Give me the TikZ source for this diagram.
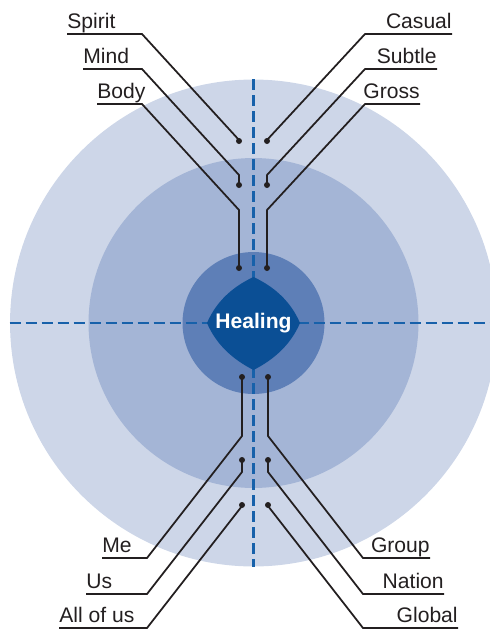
\documentclass[tikz,border=0pt]{standalone}
\usepackage{fontspec}
\setmainfont{Liberation Sans}
\usetikzlibrary{positioning}

\definecolor{ringOuter}{HTML}{CDD6E8}
\definecolor{ringMiddle}{HTML}{A4B5D6}
\definecolor{ringInner}{HTML}{5E7FB7}
\definecolor{core}{HTML}{0B4F95}
\definecolor{axis}{HTML}{1761AA}
\definecolor{ink}{HTML}{231F20}

\begin{document}
\begin{tikzpicture}[
        x=0.02cm, y=-0.02cm,
        ring/.style={
            circle,
            inner sep=0pt,
            draw=none
        },
        axisline/.style={
            axis,
            line width=1.4pt,
            dash pattern=on 0.22cm off 0.1cm
        },
        label/.style={
            inner sep=0pt,
            text depth=0.1cm,
            text=ink,
            font=\fontsize{12}{14}\selectfont
        },
        dot/.style={
            circle,
            fill=ink,
            inner sep=0pt,
            minimum size=0.12cm
        },
        leader/.style={
            ink,
            line width=1pt
        }
    ]

    \useasboundingbox (0,0) rectangle (490,629);
    \clip (0,0) rectangle (490,629);

    % three rings
    \node[ring, fill=ringOuter, minimum size=9.74cm] (outer) at (253.5,323) {};
    \node[ring, fill=ringMiddle, minimum size=6.6cm] (middle) at (253.5,323) {};
    \node[ring, fill=ringInner, minimum size=2.84cm] (inner) at (253.5,323) {};

    % dashed axes
    \draw[axisline] (outer.north) -- (outer.south);
    \draw[axisline] (outer.west) -- (outer.east);

    % core
    \fill[core] (253.5,277) .. controls (275,287) and (291,302) .. (300,323)
                            .. controls (291,344) and (275,359) .. (253.5,370)
                            .. controls (232,359) and (216,344) .. (207,323)
                            .. controls (216,302) and (232,287) .. (253.5,277) -- cycle;
    \node[text=white, font=\fontsize{12}{14}\selectfont\bfseries] (healing) at (253.5,323) {Healing};

    % labels, top
    \node[label, anchor=south west] (spirit) at (67,34) {Spirit};
    \node[label, anchor=south west] (mind) at (83,69) {Mind};
    \node[label, anchor=south west] (body) at (97,104) {Body};
    \node[label, anchor=south east] (casual) at (452,34) {Casual};
    \node[label, anchor=south east] (subtle) at (437,69) {Subtle};
    \node[label, anchor=south east] (gross) at (420,104) {Gross};

    % labels, bottom
    \node[label, anchor=south west] (me) at (102,558) {Me};
    \node[label, anchor=south west] (us) at (86,594) {Us};
    \node[label, anchor=south west] (allofus) at (59,628) {All of us};
    \node[label, anchor=south east] (group) at (430,558) {Group};
    \node[label, anchor=south east] (nation) at (444,594) {Nation};
    \node[label, anchor=south east] (global) at (458,628) {Global};

    % dots
    \node[dot] (dSpirit) at (239,141) {};
    \node[dot] (dMind) at (239,185) {};
    \node[dot] (dBody) at (239,268) {};
    \node[dot] (dCasual) at (267,141) {};
    \node[dot] (dSubtle) at (267,185) {};
    \node[dot] (dGross) at (267,268) {};
    \node[dot] (dMe) at (242,377) {};
    \node[dot] (dUs) at (242,460) {};
    \node[dot] (dAllofus) at (242,505) {};
    \node[dot] (dGroup) at (268,377) {};
    \node[dot] (dNation) at (268,460) {};
    \node[dot] (dGlobal) at (268,505) {};

    % leaders
    \draw[leader] (spirit.south west) -- (142,34) -- ++(97,106) -- (dSpirit.center);
    \draw[leader] (mind.south west) -- (142,69) -- ++(97,106) -- (dMind.center);
    \draw[leader] (body.south west) -- (142,104) -- ++(97,106) -- (dBody.center);
    \draw[leader] (casual.south east) -- (365,34) -- ++(-98,106) -- (dCasual.center);
    \draw[leader] (subtle.south east) -- (365,69) -- ++(-98,106) -- (dSubtle.center);
    \draw[leader] (gross.south east) -- (365,104) -- ++(-98,106) -- (dGross.center);

    \draw[leader] (me.south west) -- (147,558) -- ++(95,-122) -- (dMe.center);
    \draw[leader] (us.south west) -- (147,594) -- ++(95,-122) -- (dUs.center);
    \draw[leader] (allofus.south west) -- (147,628) -- ++(95,-122) -- (dAllofus.center);
    \draw[leader] (group.south east) -- (363,558) -- ++(-95,-122) -- (dGroup.center);
    \draw[leader] (nation.south east) -- (363,594) -- ++(-95,-122) -- (dNation.center);
    \draw[leader] (global.south east) -- (363,628) -- ++(-95,-122) -- (dGlobal.center);

    \end{tikzpicture}
\end{document}
